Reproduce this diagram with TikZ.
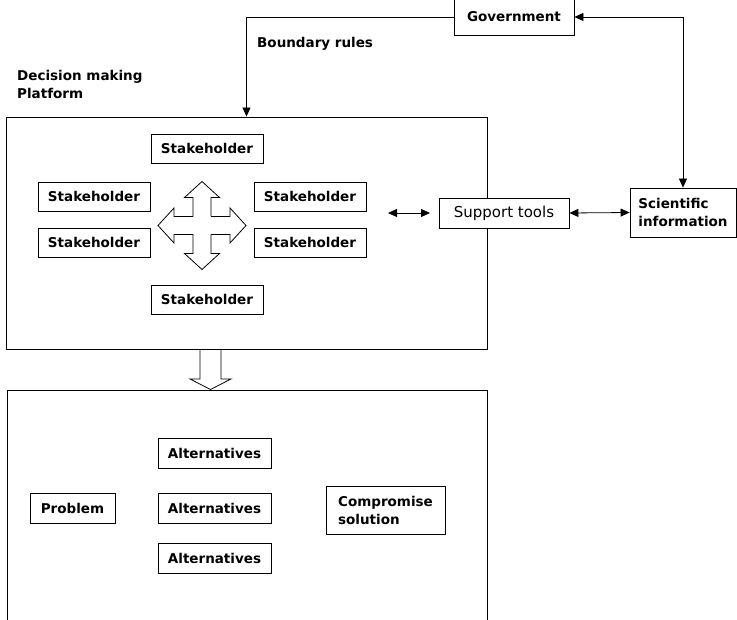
\documentclass[tikz,border=0pt]{standalone}
\usepackage{fontspec}
\setmainfont{DejaVu Sans}
\usetikzlibrary{arrows.meta}
\tikzset{
  box/.style={draw, fill=white, line width=0.8pt, inner sep=2pt, font=\fontsize{13.5}{18}\selectfont\bfseries, minimum height=29pt},
  shbox/.style={box, minimum width=112pt},
  altbox/.style={box, minimum width=113pt, minimum height=30pt},
  frame/.style={draw, line width=0.9pt, inner sep=0pt},
  lbl/.style={font=\fontsize{13.5}{18}\selectfont\bfseries, align=left, inner sep=0pt},
  link/.style={line width=0.8pt, -{Triangle[length=9pt,width=8pt]}},
  dlink/.style={line width=0.8pt, {Triangle[length=9pt,width=8pt]}-{Triangle[length=9pt,width=8pt]}},
  hollow/.style={draw, line width=0.8pt, line join=miter},
}

\begin{document}
\begin{tikzpicture}[x=1pt, y=-1pt]
  \useasboundingbox (0,0) rectangle (737,620);
  \clip (0,0) rectangle (737,620);
  % the two frames
  \node[frame, minimum width=481pt, minimum height=232pt] (platform) at (246.5,233) {};
  \node[frame, minimum width=480pt, minimum height=260pt] (outcome) at (247,520) {};
  \node[lbl, anchor=north west] (dmp) at (17,70) {Decision making\\Platform};
  % stakeholders round the cross
  \node[shbox] (sh1) at (207,148.5) {Stakeholder};
  \node[shbox] (sh2) at (94,196.5) {Stakeholder};
  \node[shbox] (sh3) at (94,242.5) {Stakeholder};
  \node[shbox] (sh4) at (310,196.5) {Stakeholder};
  \node[shbox] (sh5) at (310,242.5) {Stakeholder};
  \node[shbox] (sh6) at (207,299.5) {Stakeholder};
  \begin{scope}[shift={(202,225.5)}]
    \foreach \r in {0,90,180,270}
      \draw[hollow, rotate=\r] (9,9) -- (28,9) -- (28,17.5) -- (44,0) -- (28,-17.5) -- (28,-9) -- (9,-9);
  \end{scope}
  % block arrow down to the outcome frame
  \draw[hollow] (200,349) -- (200,379) -- (190,379) -- (210.5,389.5) -- (231,379) -- (221,379) -- (221,349);
  \node[altbox] (alt1) at (214.5,453) {Alternatives};
  \node[altbox] (alt2) at (214.5,508) {Alternatives};
  \node[altbox] (alt3) at (214.5,558.5) {Alternatives};
  \node[altbox, minimum width=85pt] (prob) at (72.5,508) {Problem};
  \node[box, minimum width=119pt, minimum height=48pt, align=left] (comp) at (385.5,510) {Compromise\\solution};
  % outside the platform
  \node[box, minimum width=120pt, minimum height=36pt] (gov) at (514,17) {Government};
  \node[box, minimum width=130pt, minimum height=30pt, font=\fontsize{15}{18}\selectfont] (sup) at (504,213) {Support tools};
  \node[box, minimum width=106pt, minimum height=49pt, align=left] (sci) at (683,212.5) {Scientific\\information};
  \node[lbl, anchor=west] (brl) at (257,44) {Boundary rules};
  \draw[link] (gov.west) -| (platform.north);
  \draw[dlink] (gov.east) -| (sci.north);
  \draw[dlink] (sup.east) -- (sci.west);
  \coordinate (pin) at (388,213);
  \coordinate (pout) at (430,213);
  \draw[dlink] (pin) -- (pout);
\end{tikzpicture}
\end{document}
